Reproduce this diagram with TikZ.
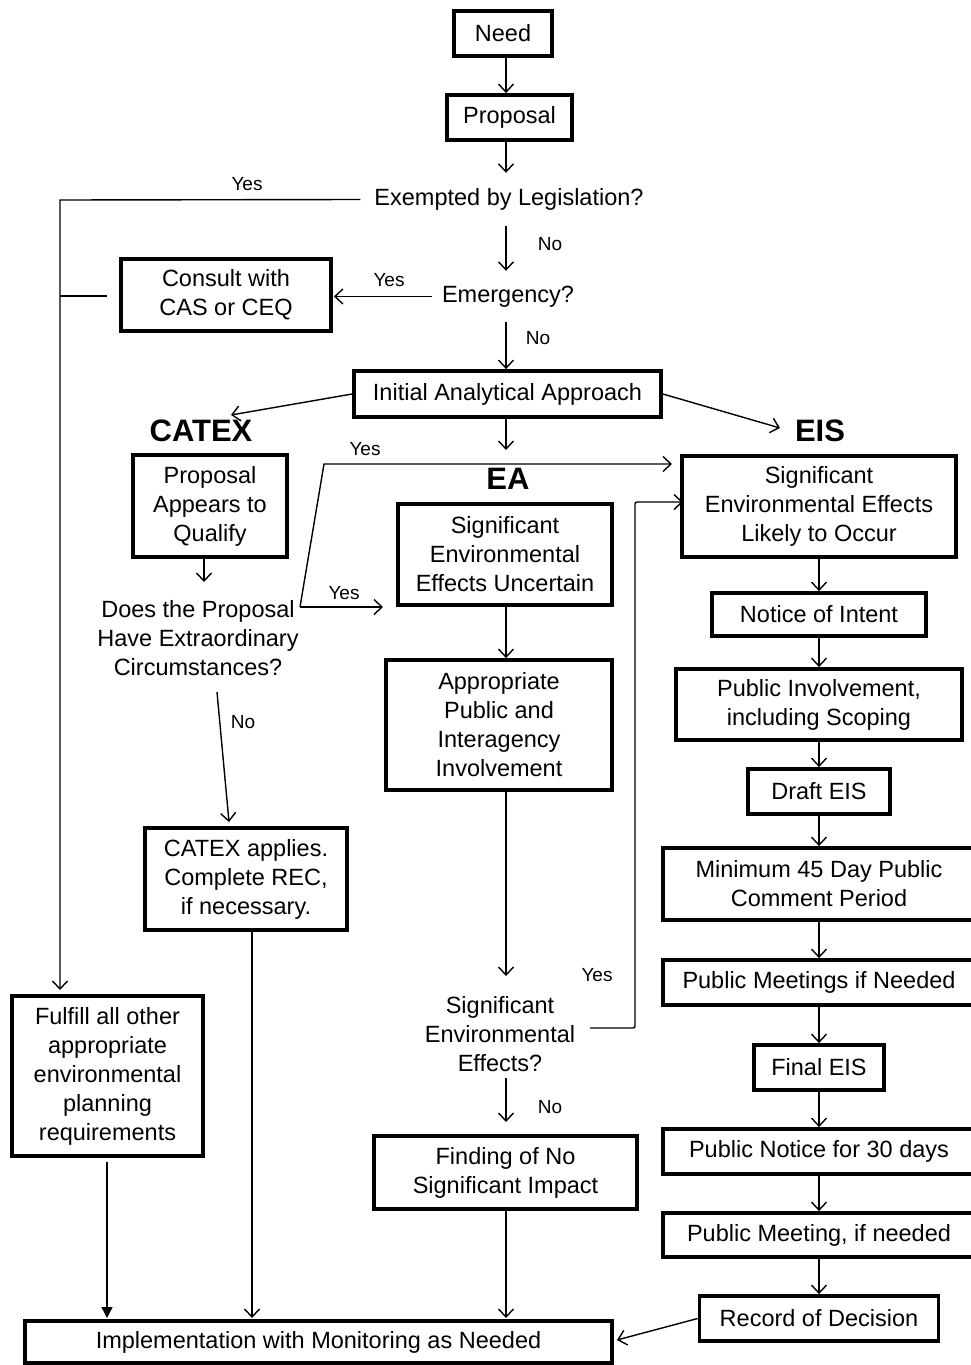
\documentclass[tikz,border=0pt]{standalone}
\usepackage{fontspec}
\setmainfont{Liberation Sans}
\usetikzlibrary{arrows.meta}
\newcommand{\bigtxt}{\fontsize{23.5pt}{29pt}\selectfont}
\newcommand{\smalltxt}{\fontsize{19pt}{22pt}\selectfont}
\newcommand{\headtxt}{\fontsize{31pt}{36pt}\selectfont\bfseries}
\begin{document}
\begin{tikzpicture}[x=1pt,y=-1pt,
 box/.style={draw, line width=3.8pt, align=center, inner sep=0pt, font=\bigtxt},
 txt/.style={align=center, inner sep=0pt, font=\bigtxt},
 lab/.style={inner sep=0pt, font=\smalltxt},
 head/.style={inner sep=0pt, font=\headtxt},
 conn/.style={line width=1.4pt, -{Straight Barb[length=8pt,width=15pt]}},
 plain/.style={line width=1.4pt},
 fconn/.style={line width=1.4pt, -{Triangle[length=11pt,width=11pt]}}]
\useasboundingbox[fill=white] (0,0) rectangle (970,1365);

% ---- boxes ----
\node[box, minimum width=98pt, minimum height=45pt] (need) at (503,33.5) {Need};
\node[box, minimum width=125pt, minimum height=45pt] (proposal) at (509.5,117.5) {Proposal};
\node[box, minimum width=210pt, minimum height=72pt] (consult) at (226,295) {Consult with\\CAS or CEQ};
\node[box, minimum width=307pt, minimum height=46pt] (initial) at (507.5,394) {Initial Analytical Approach};
\node[box, minimum width=154pt, minimum height=102pt] (qualify) at (210,506) {Proposal\\Appears to\\Qualify};
\node[box, minimum width=214pt, minimum height=101pt] (eabox) at (505,554.5) {Significant\\Environmental\\Effects Uncertain};
\node[box, minimum width=226pt, minimum height=130pt] (approp) at (499,725) {Appropriate\\Public and\\Interagency\\Involvement};
\node[box, minimum width=202pt, minimum height=102pt] (catexapp) at (246,879) {CATEX applies.\\Complete REC,\\if necessary.};
\node[box, minimum width=191pt, minimum height=160pt] (fulfill) at (107.5,1076) {Fulfill all other\\appropriate\\environmental\\planning\\requirements};
\node[box, minimum width=263pt, minimum height=73pt] (finding) at (505.5,1172.5) {Finding of No\\Significant Impact};
\node[box, minimum width=587pt, minimum height=42pt] (impl) at (318.5,1342) {Implementation with Monitoring as Needed};

\node[box, minimum width=274pt, minimum height=101pt] (eisbox) at (819,506.5) {Significant\\Environmental Effects\\Likely to Occur};
\node[box, minimum width=214pt, minimum height=43pt] (noi) at (819,614.5) {Notice of Intent};
\node[box, minimum width=286pt, minimum height=71pt] (pubinv) at (819,704.5) {Public Involvement,\\including Scoping};
\node[box, minimum width=142pt, minimum height=45pt] (draft) at (819,791.5) {Draft EIS};
\node[box, minimum width=312pt, minimum height=72pt] (min45) at (819,884) {Minimum 45 Day Public\\Comment Period};
\node[box, minimum width=312pt, minimum height=45pt] (pubmeet) at (819,982.5) {Public Meetings if Needed};
\node[box, minimum width=130pt, minimum height=45pt] (final) at (819,1067.5) {Final EIS};
\node[box, minimum width=312pt, minimum height=45pt] (notice30) at (819,1151.5) {Public Notice for 30 days};
\node[box, minimum width=312pt, minimum height=44pt] (meeting) at (819,1235) {Public Meeting, if needed};
\node[box, minimum width=239pt, minimum height=45pt] (rod) at (819,1318.5) {Record of Decision};

% ---- decision texts ----
\node[txt, minimum width=297pt, minimum height=53pt] (exempted) at (509,199.5) {Exempted by Legislation?};
\node[txt, minimum width=152pt, minimum height=51pt] (emergency) at (508,296.5) {Emergency?};
\node[txt] (does) at (198,638) {Does the Proposal\\Have Extraordinary\\Circumstances?};
\node[txt] (sigeff) at (500,1034) {Significant\\Environmental\\Effects?};

% ---- headings ----
\node[head] (hcatex) at (201,431) {CATEX};
\node[head] (heis) at (820,431) {EIS};
\node[head] (hea) at (508,479) {EA};

% ---- labels ----
\node[lab] (l1) at (247,184) {Yes};
\node[lab] (l2) at (550,244) {No};
\node[lab] (l3) at (389,280) {Yes};
\node[lab] (l4) at (538,338) {No};
\node[lab] (l5) at (365,449) {Yes};
\node[lab] (l6) at (344,593) {Yes};
\node[lab] (l7) at (243,722) {No};
\node[lab] (l8) at (597,975) {Yes};
\node[lab] (l9) at (550,1107) {No};

% ---- coordinates ----
\coordinate (cX) at (506,0);
\coordinate (cL1) at (60,200);
\coordinate (cL2) at (60,296);
\coordinate (cL3) at (107,296);
\coordinate (cFul) at (60,990);
\coordinate (cCat) at (231,415);
\coordinate (cEis) at (780,428);
\coordinate (cEaTop) at (506,450);
\coordinate (cQ1) at (204,560);
\coordinate (cQ2) at (204,582);
\coordinate (cD) at (300,607);
\coordinate (cD1) at (324,464);
\coordinate (cD2) at (672,464);
\coordinate (cD3) at (383,607);
\coordinate (cN1) at (217,692);
\coordinate (cN2) at (229,822);
\coordinate (cS0) at (506,976);
\coordinate (cS1) at (506,1078);
\coordinate (cS2) at (506,1122);
\coordinate (cY0) at (590,1028);
\coordinate (cY1) at (635,1028);
\coordinate (cY2) at (635,502);
\coordinate (cY3) at (683,502);
\coordinate (cF1) at (107,1162);
\coordinate (cF2) at (107,1318);
\coordinate (cC2) at (252,1318);
\coordinate (cI2) at (506,1318);
\coordinate (cR) at (617,1340);

% ---- connectors ----
\draw[conn] (need.south -| cX) -- (proposal.north -| cX);
\draw[conn] (proposal.south -| cX) -- (exempted.north -| cX);
\draw[conn] (exempted.south -| cX) -- (emergency.north -| cX);
\draw[conn] (emergency.west) -- ([xshift=1pt]emergency.west -| consult.east);
\draw[conn] (exempted.west) -- (cL1) -- (cFul);
\draw[plain] (cL3) -- (cL2);
\draw[conn] (emergency.south -| cX) -- (initial.north -| cX);
\draw[conn] (initial.west) -- (cCat);
\draw[conn] (initial.east) -- (cEis);
\draw[conn] (initial.south -| cX) -- (cEaTop);
\draw[conn] (qualify.south -| cQ1) -- (cQ2);
\draw[conn] (cD) -- (cD1) -- (cD2);
\draw[conn] (cD) -- (cD3);
\draw[conn] (cN1) -- (cN2);
\draw[conn] (eabox.south -| cX) -- (approp.north -| cX);
\draw[conn] (approp.south -| cX) -- (cS0);
\draw[conn] (cS1) -- (cS2);
\draw[conn, rounded corners=2pt] (cY0) -- (cY1) -- (cY2) -- (cY3);
\draw[conn] (finding.south -| cX) -- (cI2);
\draw[conn] (catexapp.south -| cC2) -- (cC2);
\draw[fconn] (cF1) -- (cF2);
\draw[conn] (rod.west) -- (cR);

\draw[conn] (eisbox) -- (noi);
\draw[conn] (noi) -- (pubinv);
\draw[conn] (pubinv) -- (draft);
\draw[conn] (draft) -- (min45);
\draw[conn] (min45) -- (pubmeet);
\draw[conn] (pubmeet) -- (final);
\draw[conn] (final) -- (notice30);
\draw[conn] (notice30) -- (meeting);
\draw[conn] (meeting) -- (rod);
\end{tikzpicture}
\end{document}
